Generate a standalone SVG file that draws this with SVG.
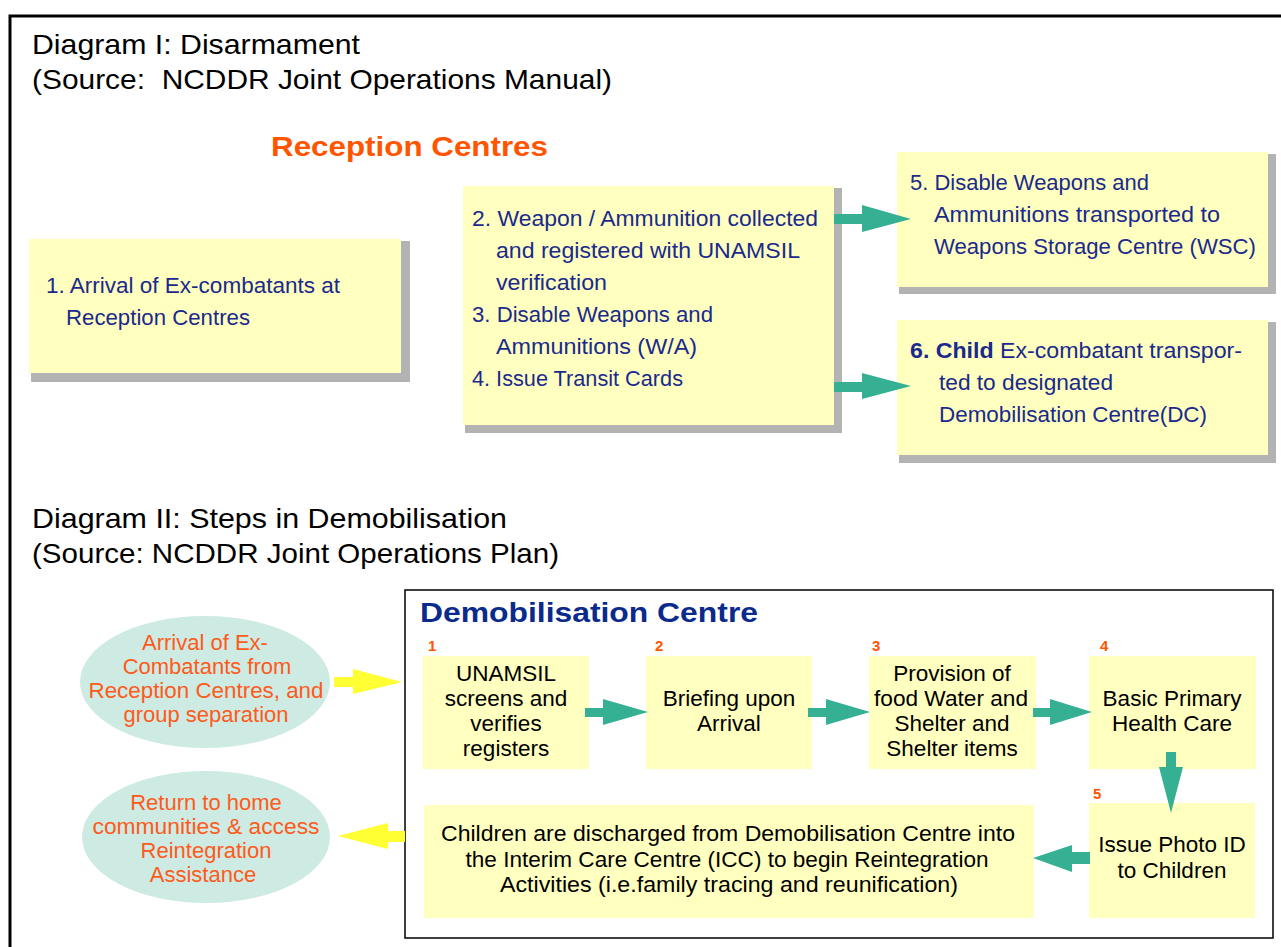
<svg xmlns="http://www.w3.org/2000/svg" width="1281" height="947" viewBox="0 0 1281 947">
<style>
text{font-family:"Liberation Sans",Arial,sans-serif}
.hdr{font-size:28px;fill:#000}
.box{fill:#ffffc0}
.shd{fill:#b3b3b3}
.nv{font-size:21.5px;fill:#1a2a8c}
.bk{font-size:22.5px;fill:#000;text-anchor:middle}
.or{font-size:22px;fill:#ff5a1a;text-anchor:middle}
.num{font-size:15px;font-weight:bold;fill:#ff5500}
.ell{fill:#cdeae3}
.teal{fill:#36b092}
.yel{fill:#ffff33}
</style>
<rect width="1281" height="947" fill="#fff"/>
<path d="M10,947 V16 H1281" fill="none" stroke="#000" stroke-width="3"/>
<g id="headers">
<text class="hdr" x="32" y="54" textLength="328" lengthAdjust="spacingAndGlyphs">Diagram I: Disarmament</text>
<text class="hdr" x="32" y="89" textLength="580" lengthAdjust="spacingAndGlyphs" xml:space="preserve">(Source:  NCDDR Joint Operations Manual)</text>
<text x="271" y="156" font-size="28" font-weight="bold" fill="#ff5500" textLength="277" lengthAdjust="spacingAndGlyphs">Reception Centres</text>
<text class="hdr" x="32" y="528" textLength="475" lengthAdjust="spacingAndGlyphs">Diagram II: Steps in Demobilisation</text>
<text class="hdr" x="32" y="563" textLength="527" lengthAdjust="spacingAndGlyphs">(Source: NCDDR Joint Operations Plan)</text>
</g>
<g id="r1">
<rect class="shd" x="31" y="241" width="379" height="141"/>
<rect class="box" x="29" y="239" width="372" height="134"/>
<text class="nv" x="46" y="293" textLength="294" lengthAdjust="spacingAndGlyphs">1. Arrival of Ex-combatants at</text>
<text class="nv" x="66" y="325" textLength="184" lengthAdjust="spacingAndGlyphs">Reception Centres</text>
</g>
<g id="r2">
<rect class="shd" x="465" y="188" width="377" height="245"/>
<rect class="box" x="463" y="186" width="371" height="239"/>
<text class="nv" x="472" y="226" textLength="346" lengthAdjust="spacingAndGlyphs">2. Weapon / Ammunition collected</text>
<text class="nv" x="496" y="258" textLength="304" lengthAdjust="spacingAndGlyphs">and registered with UNAMSIL</text>
<text class="nv" x="496" y="290" textLength="111" lengthAdjust="spacingAndGlyphs">verification</text>
<text class="nv" x="472" y="322" textLength="241" lengthAdjust="spacingAndGlyphs">3. Disable Weapons and</text>
<text class="nv" x="496" y="354" textLength="201" lengthAdjust="spacingAndGlyphs">Ammunitions (W/A)</text>
<text class="nv" x="472" y="386" textLength="211" lengthAdjust="spacingAndGlyphs">4. Issue Transit Cards</text>
</g>
<g id="r5">
<rect class="shd" x="899" y="154" width="377" height="140"/>
<rect class="box" x="897" y="152" width="371" height="135"/>
<text class="nv" x="910" y="190" textLength="239" lengthAdjust="spacingAndGlyphs">5. Disable Weapons and</text>
<text class="nv" x="934" y="222" textLength="286" lengthAdjust="spacingAndGlyphs">Ammunitions transported to</text>
<text class="nv" x="934" y="254" textLength="322" lengthAdjust="spacingAndGlyphs">Weapons Storage Centre (WSC)</text>
</g>
<g id="r6">
<rect class="shd" x="899" y="322" width="377" height="141"/>
<rect class="box" x="897" y="320" width="371" height="135"/>
<text class="nv" x="910" y="358" textLength="332" lengthAdjust="spacingAndGlyphs"><tspan font-weight="bold">6. Child</tspan> Ex-combatant transpor-</text>
<text class="nv" x="939" y="390" textLength="174" lengthAdjust="spacingAndGlyphs">ted to designated</text>
<text class="nv" x="939" y="422" textLength="268" lengthAdjust="spacingAndGlyphs">Demobilisation Centre(DC)</text>
</g>
<g id="demob-frame">
<rect x="405" y="590" width="868" height="348" fill="none" stroke="#000" stroke-width="1.5"/>
<text x="420" y="622" font-size="28" font-weight="bold" fill="#0a2a8c" textLength="338" lengthAdjust="spacingAndGlyphs">Demobilisation Centre</text>
</g>
<g id="e1">
<ellipse class="ell" cx="205" cy="682" rx="125" ry="66"/>
<text class="or" x="205" y="650">Arrival of Ex-</text>
<text class="or" x="207" y="674">Combatants from</text>
<text class="or" x="206" y="698" textLength="235" lengthAdjust="spacingAndGlyphs">Reception Centres, and</text>
<text class="or" x="206" y="722">group separation</text>
</g>
<g id="e2">
<ellipse class="ell" cx="206" cy="837" rx="124" ry="66"/>
<text class="or" x="206" y="810">Return to home</text>
<text class="or" x="206" y="834" textLength="227" lengthAdjust="spacingAndGlyphs">communities &amp; access</text>
<text class="or" x="206" y="858">Reintegration</text>
<text class="or" x="203" y="882">Assistance</text>
</g>
<g id="d1">
<text class="num" x="428" y="651">1</text>
<rect class="box" x="423" y="656" width="166" height="113"/>
<text class="bk" x="506" y="681">UNAMSIL</text>
<text class="bk" x="506" y="706">screens and</text>
<text class="bk" x="506" y="731">verifies</text>
<text class="bk" x="506" y="756">registers</text>
</g>
<g id="d2">
<text class="num" x="655" y="651">2</text>
<rect class="box" x="646" y="656" width="166" height="113"/>
<text class="bk" x="729" y="706">Briefing upon</text>
<text class="bk" x="729" y="731">Arrival</text>
</g>
<g id="d3">
<text class="num" x="872" y="651">3</text>
<rect class="box" x="869" y="656" width="167" height="113"/>
<text class="bk" x="952" y="681">Provision of</text>
<text class="bk" x="951" y="706" textLength="154" lengthAdjust="spacingAndGlyphs">food Water and</text>
<text class="bk" x="952" y="731">Shelter and</text>
<text class="bk" x="952" y="756">Shelter items</text>
</g>
<g id="d4">
<text class="num" x="1100" y="651">4</text>
<rect class="box" x="1089" y="656" width="167" height="113"/>
<text class="bk" x="1172" y="706">Basic Primary</text>
<text class="bk" x="1172" y="731">Health Care</text>
</g>
<g id="d5">
<text class="num" x="1093" y="799">5</text>
<rect class="box" x="1089" y="803" width="166" height="115"/>
<text class="bk" x="1172" y="852">Issue Photo ID</text>
<text class="bk" x="1172" y="878">to Children</text>
</g>
<g id="d6">
<rect class="box" x="424" y="805" width="610" height="113"/>
<text class="bk" x="728" y="841" textLength="574" lengthAdjust="spacingAndGlyphs">Children are discharged from Demobilisation Centre into</text>
<text class="bk" x="727" y="867" textLength="523" lengthAdjust="spacingAndGlyphs">the Interim Care Centre (ICC) to begin Reintegration</text>
<text class="bk" x="729" y="892" textLength="458" lengthAdjust="spacingAndGlyphs">Activities (i.e.family tracing and reunification)</text>
</g>
<g id="connectors">
<polygon class="teal" points="834,214 862,214 862,205 911,219 862,232 862,224 834,224"/>
<polygon class="teal" points="834,382 862,382 862,373 911,386 862,399 862,392 834,392"/>
<polygon class="teal" points="585,708 603,708 603,699 648,712 603,725 603,717 585,717"/>
<polygon class="teal" points="808,708 826,708 826,699 870,712 826,725 826,717 808,717"/>
<polygon class="teal" points="1033,708 1050,708 1050,699 1092,712 1050,725 1050,717 1033,717"/>
<polygon class="teal" points="1166,752 1176,752 1176,767 1183,767 1171,813 1159,767 1166,767"/>
<polygon class="teal" points="1090,852 1072,852 1072,845 1033,858 1072,872 1072,864 1090,864"/>
<polygon class="yel" points="334,677 353,677 353,669 402,682 353,694 353,687 334,687"/>
<polygon class="yel" points="405,831 388,831 388,823 338,836 388,849 388,842 405,842"/>
</g>
</svg>
